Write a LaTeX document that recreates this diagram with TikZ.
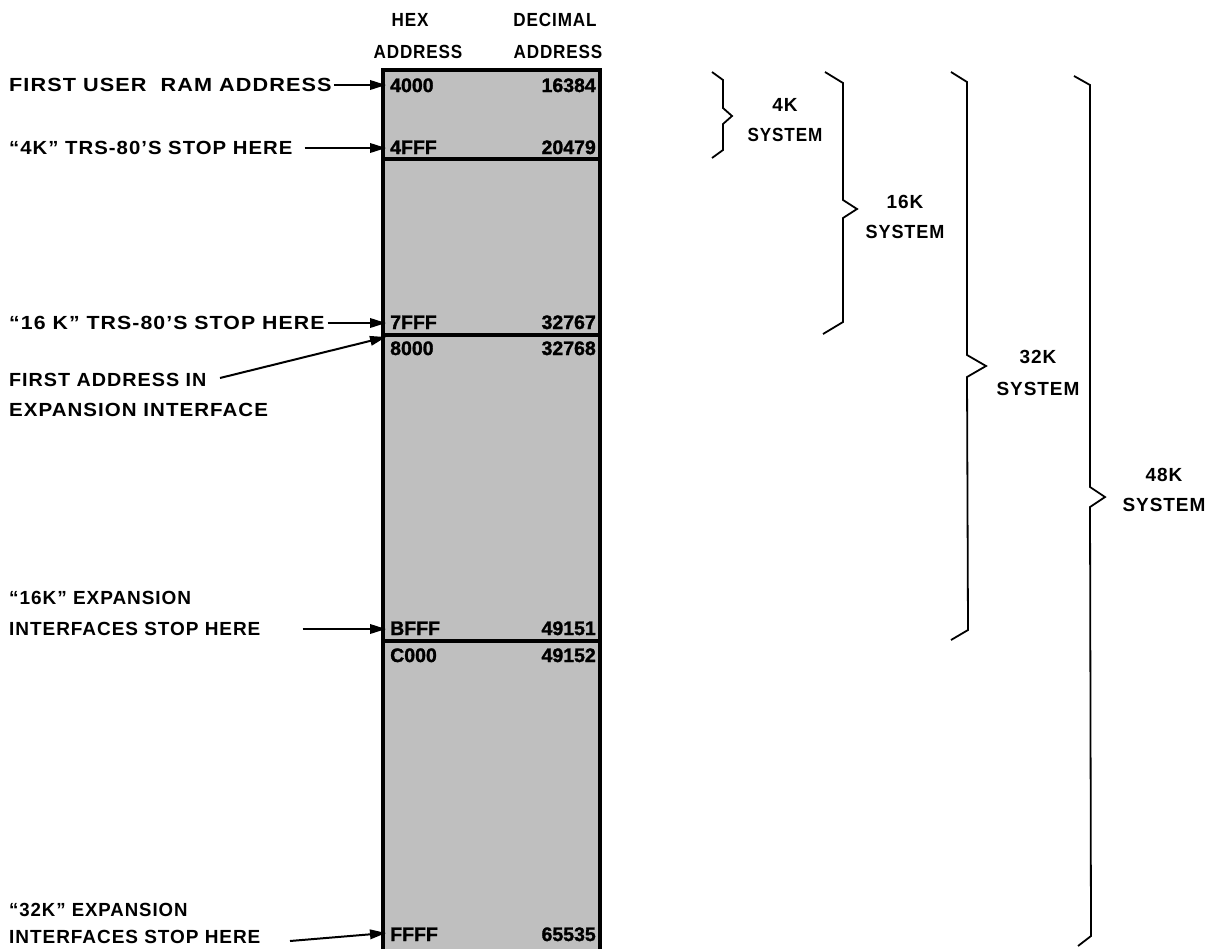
\documentclass[tikz,border=0pt]{standalone}
\usepackage{fontspec}
\setmainfont{Liberation Sans}
\newfontfamily\lblfont[LetterSpace=5]{Liberation Sans Bold}
\newfontfamily\numfont[FakeBold=1.5]{Liberation Sans Bold}
\usetikzlibrary{arrows.meta}
\begin{document}
\begin{tikzpicture}[x=1pt,y=-1pt,
  lbl/.style={font={\lblfont\fontsize{19}{22}\selectfont}, inner sep=0pt, text height=13.6pt, text depth=0pt},
  num/.style={font={\numfont\fontsize{19.5}{22}\selectfont}, inner sep=0pt, text height=14pt, text depth=0pt},
  arr/.style={line width=2pt, -{Triangle[length=16pt,width=9.5pt]}},
  brc/.style={line width=1.8pt, line join=miter},
  memfill/.style={fill=black!25},
  memline/.style={line width=3.5pt}
]
\useasboundingbox (0,0) rectangle (1212,948);
\clip (0,0) rectangle (1212,948);
% memory column
\fill[memfill] (383,70) rectangle (600,960);
\draw[memline] (383,960) -- (383,70) -- (600,70) -- (600,960);
\draw[memline] (383,159) -- (600,159);
\draw[memline] (383,335) -- (600,335);
\draw[memline] (383,641) -- (600,641);
% headers
\node[lbl] (hex1) at (410,20) {\scalebox{0.9}[1]{HEX}};
\node[lbl] (hex2) at (418,52) {\scalebox{0.9}[1]{ADDRESS}};
\node[lbl] (dec1) at (555,20) {\scalebox{0.9}[1]{DECIMAL}};
\node[lbl] (dec2) at (558,52) {\scalebox{0.9}[1]{ADDRESS}};
% box numbers
\node[num, anchor=west] (h1) at (390,85) {4000};
\node[num, anchor=east] (d1) at (596,85) {16384};
\node[num, anchor=west] (h2) at (390,147) {4FFF};
\node[num, anchor=east] (d2) at (596,147) {20479};
\node[num, anchor=west] (h3) at (390,322) {7FFF};
\node[num, anchor=east] (d3) at (596,322) {32767};
\node[num, anchor=west] (h4) at (390,348) {8000};
\node[num, anchor=east] (d4) at (596,348) {32768};
\node[num, anchor=west] (h5) at (390,628) {BFFF};
\node[num, anchor=east] (d5) at (596,628) {49151};
\node[num, anchor=west] (h6) at (390,655) {C000};
\node[num, anchor=east] (d6) at (596,655) {49152};
\node[num, anchor=west] (h7) at (390,934) {FFFF};
\node[num, anchor=east] (d7) at (596,934) {65535};
% arrow targets
\coordinate (t1) at (386,85);
\coordinate (t2) at (386,148);
\coordinate (t3) at (386,323);
\coordinate (t4) at (386,337);
\coordinate (t5) at (386,629);
\coordinate (t6) at (386,933);
\coordinate (s4) at (220,378);
\coordinate (s6) at (290,941);
% left labels
\node[lbl, anchor=west] (l1) at (9,85) {\scalebox{1.14}[1]{FIRST USER\hspace{6pt} RAM ADDRESS}};
\node[lbl, anchor=west] (l2) at (9,148) {\scalebox{1.07}[1]{“4K” TRS-80’S STOP HERE}};
\node[lbl, anchor=west] (l3) at (9,323) {\scalebox{1.12}[1]{“16 K” TRS-80’S STOP HERE}};
\node[lbl, anchor=west] (l4a) at (9,380) {\scalebox{1.04}[1]{FIRST ADDRESS IN}};
\node[lbl, anchor=west] (l4b) at (9,410) {\scalebox{1.08}[1]{EXPANSION INTERFACE}};
\node[lbl, anchor=west] (l5a) at (9,598) {“16K” EXPANSION};
\node[lbl, anchor=west] (l5b) at (9,629) {INTERFACES STOP HERE};
\node[lbl, anchor=west] (l6a) at (9,910) {\scalebox{0.98}[1]{“32K” EXPANSION}};
\node[lbl, anchor=west] (l6b) at (9,937) {INTERFACES STOP HERE};
\draw[arr] ([xshift=2pt]l1.east) -- (t1);
\draw[arr] ([xshift=12pt]l2.east) -- (t2);
\draw[arr] ([xshift=3pt]l3.east) -- (t3);
\draw[arr] (s4) -- (t4);
\draw[arr] ([xshift=42pt]l5b.east) -- (t5);
\draw[arr] (s6) -- (t6);
% braces
\draw[brc] (712,72) -- (723,80) -- (723,108) -- (732,116) -- (723,124) -- (723,150) -- (712,158);
\draw[brc] (825,72) -- (843,83) -- (843,200) -- (857,209) -- (843,218) -- (843,322) -- (823,334);
\draw[brc] (951,72) -- (967,82) -- (967,355) -- (986,366) -- (967,377) -- (968,630) -- (951,640);
\draw[brc] (1074,76) -- (1090,85) -- (1090,487) -- (1105,497) -- (1090,507) -- (1091,936) -- (1078,946);
% brace labels
\node[lbl] (b1a) at (785,105) {4K};
\node[lbl] (b1b) at (785,135) {\scalebox{0.9}[1]{SYSTEM}};
\node[lbl] (b2a) at (905,202) {16K};
\node[lbl] (b2b) at (905,232) {\scalebox{0.95}[1]{SYSTEM}};
\node[lbl] (b3a) at (1038,357) {32K};
\node[lbl] (b3b) at (1038,389) {SYSTEM};
\node[lbl] (b4a) at (1164,475) {48K};
\node[lbl] (b4b) at (1164,505) {SYSTEM};
\end{tikzpicture}
\end{document}
